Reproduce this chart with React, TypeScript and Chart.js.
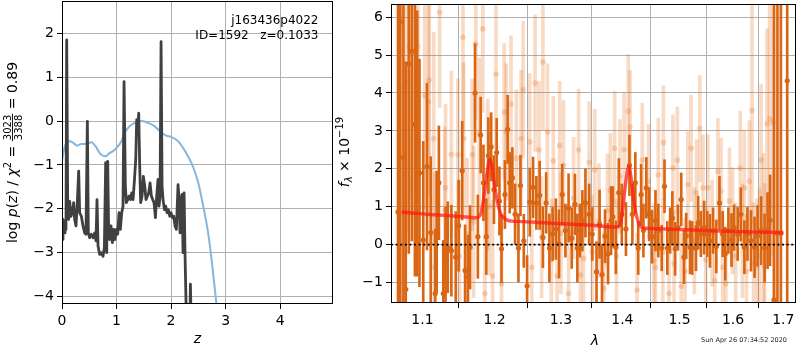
import React, { useEffect, useRef } from 'react';
import { Chart, registerables } from 'chart.js';
Chart.register(...registerables);

const FONT = 'DejaVu Sans';

// ---------- left panel: log p(z) ----------
const pzZ = [
  0, 0.018, 0.037, 0.055, 0.073, 0.086, 0.104, 0.122, 0.141, 0.165,
  0.190, 0.214, 0.232, 0.257, 0.281, 0.306, 0.324, 0.355, 0.385, 0.416,
  0.440, 0.465, 0.483, 0.508, 0.538, 0.569, 0.599, 0.624, 0.642, 0.661,
  0.691, 0.722, 0.752, 0.777, 0.801, 0.820, 0.838, 0.856, 0.875, 0.899,
  0.924, 0.948, 0.972, 0.997, 1.021, 1.046, 1.070, 1.095, 1.119, 1.138,
  1.162, 1.180, 1.205, 1.229, 1.254, 1.278, 1.303, 1.327, 1.352, 1.370,
  1.388, 1.407, 1.425, 1.443, 1.468, 1.492, 1.517, 1.541, 1.566, 1.590,
  1.615, 1.639, 1.664, 1.688, 1.713, 1.737, 1.761, 1.780, 1.798, 1.817,
  1.835, 1.853, 1.878, 1.902, 1.927, 1.951, 1.976, 2.000, 2.024, 2.049,
  2.073, 2.098, 2.128, 2.147, 2.165, 2.183, 2.202, 2.220, 2.239, 2.257,
  2.275, 2.300, 2.336, 2.355, 2.373, 2.400, 2.450,
];
const pzLog = [
  -2.70, -2.24, -2.55, -2.28, -2.47, 1.85, -1.79, -2.24, -1.83, -2.17,
  -2.09, -1.86, -2.24, -2.39, -1.86, -1.14, -2.09, -2.17, -2.39, -2.55,
  -2.58, -0.01, -2.55, -2.66, -2.58, -2.66, -2.55, -2.73, -1.79, -2.85,
  -3.04, -3.00, -3.08, -2.89, -0.95, -3.00, -0.92, -2.55, -2.70, -2.39,
  -2.77, -2.47, -2.70, -2.47, -2.58, -2.09, -2.47, -2.09, -1.94, 0.90,
  -1.48, -1.86, -1.79, -1.71, -1.79, -1.64, -1.79, -1.37, -0.88, 0.03,
  -0.27, 0.18, -1.03, -1.86, -1.71, -1.26, -1.48, -1.79, -1.71, -1.64,
  -1.41, -1.71, -1.79, -1.86, -2.20, -1.71, -1.33, -1.94, -1.71, 1.81,
  -1.48, -1.79, -2.02, -1.94, -2.09, -2.02, -2.17, -2.09, -2.20, -2.17,
  -2.39, -2.47, -1.45, -1.79, -2.55, -1.79, -1.67, -3.00, -1.64, -3.08,
  -4.14, -4.8, -5.6, -3.72, -4.8, -7, -10,
];
const priorZ = [
  0, 0.03, 0.05, 0.09, 0.14, 0.20, 0.28, 0.35, 0.45, 0.54,
  0.63, 0.69, 0.80, 0.87, 0.93, 1.00, 1.09, 1.15, 1.24, 1.36,
  1.46, 1.58, 1.70, 1.82, 1.91, 2.00, 2.13, 2.22, 2.31, 2.40,
  2.50, 2.59, 2.68, 2.75, 2.81, 2.83, 2.90,
];
const priorLog = [
  -0.90, -0.70, -0.58, -0.50, -0.46, -0.49, -0.56, -0.52, -0.52, -0.48,
  -0.60, -0.73, -0.80, -0.73, -0.69, -0.61, -0.46, -0.27, -0.12, -0.03,
  0.00, -0.04, -0.12, -0.26, -0.33, -0.36, -0.46, -0.61, -0.80, -1.03,
  -1.41, -1.94, -2.55, -3.23, -3.91, -4.14, -4.80,
];
const zTicks = [0, 1, 2, 3, 4];
const logTicks = [-4, -3, -2, -1, 0, 1, 2];

// ---------- right panel: spectrum ----------
const darkLam = [
  1.068, 1.071, 1.075, 1.078, 1.082, 1.086, 1.090, 1.093, 1.096, 1.101,
  1.106, 1.111, 1.117, 1.119, 1.122, 1.128, 1.131, 1.134, 1.139, 1.145,
  1.149, 1.154, 1.158, 1.162, 1.165, 1.172, 1.176, 1.180, 1.184, 1.188,
  1.191, 1.195, 1.199, 1.203, 1.207, 1.210, 1.215, 1.219, 1.222, 1.226,
  1.230, 1.235, 1.238, 1.243, 1.248, 1.252, 1.257, 1.262, 1.267, 1.272,
  1.277, 1.282, 1.287, 1.292, 1.297, 1.302, 1.307, 1.312, 1.317, 1.322,
  1.326, 1.330, 1.334, 1.339, 1.345, 1.350, 1.357, 1.362, 1.366, 1.371,
  1.376, 1.381, 1.384, 1.389, 1.394, 1.399, 1.406, 1.412, 1.417, 1.422,
  1.427, 1.432, 1.436, 1.441, 1.446, 1.451, 1.457, 1.462, 1.468, 1.473,
  1.478, 1.483, 1.487, 1.492, 1.497, 1.503, 1.508, 1.512, 1.519, 1.523,
  1.530, 1.534, 1.539, 1.545, 1.551, 1.556, 1.562, 1.568, 1.574, 1.580,
  1.585, 1.591, 1.597, 1.602, 1.609, 1.615, 1.622, 1.628, 1.635, 1.642,
  1.648, 1.655, 1.662, 1.668, 1.673, 1.681, 1.688, 1.695, 1.708,
];
const darkFlux = [
  0.86, 5.87, 2.30, -1.18, 4.77, 5.10, 3.17, 2.67, 1.89, 0.12,
  2.06, 0.32, -1.29, 0.34, 1.63, -1.29, -0.31, -0.07, -0.16, -0.33,
  0.50, 1.95, -0.68, -0.85, -0.07, 4.00, 0.21, 2.89, 1.63, 0.21,
  2.35, 2.58, 1.45, 2.43, 1.15, -0.11, 1.32, 3.04, 1.63, 1.76,
  0.80, -0.09, 1.56, 0.10, -1.09, 1.12, 1.51, 1.10, 1.30, 0.19,
  1.10, -0.09, 0.28, 0.41, 0.02, 1.32, 0.37, 0.97, 0.17, 1.06,
  -0.09, 0.37, 0.63, 1.10, 0.80, 0.28, -0.72, 0.54, -0.79, 0.22,
  -0.24, 0.63, 0.73, -0.07, 1.37, 0.80, 0.41, 2.09, 0.80, 1.63,
  -0.09, 1.32, 0.37, 1.50, 0.80, 0.21, 0.63, 0.37, -0.09, 1.54,
  -0.09, 0.37, 0.70, -0.11, 0.45, 1.19, -0.33, 0.23, -0.07, -0.09,
  -0.09, 0.58, 0.28, 0.45, 0.28, 0.10, 0.37, -0.05, 1.10, 0.28,
  -0.24, 0.37, 0.12, 0.45, 0.28, 0.80, -0.07, 0.28, 0.10, -0.07,
  0.23, 0.37, -0.09, 0.37, 0.64, -1.46, 0.30, 0.30, 4.32,
];
const darkErr = [
  8, 8, 6, 6, 5, 5, 4, 3.5, 3, 2.6,
  2.2, 2.0, 1.7, 1.6, 1.5, 1.4, 1.3, 1.2, 1.2, 1.2,
  1.2, 1.3, 1.2, 1.1, 1.1, 1.3, 1.1, 1.0, 1.0, 1.0,
  1.0, 0.9, 0.9, 0.9, 0.9, 0.9, 0.9, 0.9, 0.8, 0.8,
  0.8, 0.9, 0.8, 0.7, 0.8, 0.9, 0.8, 0.7, 0.9, 0.8,
  0.8, 0.9, 0.7, 0.8, 0.9, 0.8, 0.7, 0.9, 0.8, 0.8,
  0.9, 0.7, 0.8, 0.9, 0.8, 0.7, 0.8, 0.9, 0.8, 0.7,
  0.8, 0.9, 0.8, 0.7, 0.9, 0.8, 0.7, 0.8, 0.8, 0.8,
  0.7, 0.8, 0.7, 0.8, 0.7, 0.7, 0.8, 0.7, 0.6, 0.7,
  0.7, 0.6, 0.7, 0.7, 0.6, 0.7, 0.7, 0.6, 0.7, 0.7,
  0.6, 0.7, 0.6, 0.7, 0.6, 0.7, 0.6, 0.7, 0.7, 0.6,
  0.7, 0.6, 0.7, 0.6, 0.7, 0.7, 0.7, 0.7, 0.8, 0.8,
  0.8, 0.9, 0.9, 1.0, 1.2, 8, 8, 8, 8,
];
const lightLam = [
  1.079, 1.083, 1.094, 1.103, 1.108, 1.109, 1.115, 1.116, 1.123, 1.130,
  1.131, 1.139, 1.148, 1.150, 1.155, 1.156, 1.161, 1.168, 1.170, 1.173,
  1.178, 1.183, 1.186, 1.190, 1.192, 1.197, 1.202, 1.210, 1.214, 1.217,
  1.224, 1.232, 1.239, 1.242, 1.252, 1.255, 1.260, 1.266, 1.270, 1.272,
  1.279, 1.285, 1.288, 1.294, 1.298, 1.300, 1.304, 1.312, 1.320, 1.328,
  1.331, 1.336, 1.345, 1.350, 1.354, 1.361, 1.369, 1.375, 1.380, 1.387,
  1.390, 1.396, 1.403, 1.410, 1.413, 1.425, 1.434, 1.445, 1.454, 1.457,
  1.462, 1.470, 1.471, 1.481, 1.488, 1.490, 1.496, 1.503, 1.510, 1.515,
  1.521, 1.527, 1.531, 1.537, 1.543, 1.548, 1.552, 1.560, 1.565, 1.571,
  1.577, 1.580, 1.586, 1.593, 1.599, 1.605, 1.614, 1.618, 1.622, 1.626,
  1.632, 1.637, 1.640, 1.647, 1.652, 1.655, 1.660, 1.662, 1.667, 1.672,
  1.679, 1.681,
];
const lightFlux = [
  4.32, 5.23, 5.23, 3.93, 3.76, 4.34, 2.80, -0.60, 6.12, 0.90,
  1.50, 2.38, 2.37, -0.30, 5.47, 2.80, 0.28, 2.37, 0.60, 5.30,
  2.93, 5.69, -1.29, 1.84, 1.00, -0.83, 4.50, -1.03, 3.50, 2.97,
  3.71, 2.28, 2.80, 4.09, 2.71, -0.60, 4.26, 2.50, 0.20, 4.82,
  2.97, -0.40, 2.21, -0.83, 2.61, 0.30, 2.10, -1.29, 1.23, 2.50,
  -0.80, -0.37, 2.17, -0.20, 1.97, 0.63, -1.16, 0.90, 1.43, 2.54,
  -0.30, 1.80, 2.51, 3.52, 3.10, -1.20, 2.23, 1.67, -0.42, -0.60,
  1.84, -0.20, 2.69, -1.29, 2.02, -0.50, 2.23, -1.10, -0.70, 1.58,
  2.54, 0.10, 1.37, 3.06, 1.50, -0.40, 1.50, 0.30, -0.94, 1.93,
  1.41, -0.60, -1.03, 1.15, 0.63, -0.30, 2.02, 0.10, 1.50, -0.70,
  1.67, 3.54, -0.50, -0.59, -0.30, 2.23, 0.40, -0.59, 3.19, 3.32,
  3.23, -1.50,
];
const lightErr = [
  4, 4, 3.5, 3, 3, 3, 2.8, 2.5, 2.5, 2.2,
  2.2, 2.2, 2.0, 2.0, 2.5, 2.0, 2.0, 2.0, 2.0, 2.0,
  2.0, 2.2, 2.0, 2.0, 1.8, 2.0, 2.0, 1.8, 1.8, 1.8,
  1.8, 1.8, 1.8, 1.8, 1.8, 1.6, 1.8, 1.8, 1.6, 1.8,
  1.8, 1.6, 1.7, 1.6, 1.7, 1.6, 1.7, 1.6, 1.6, 1.6,
  1.6, 1.6, 1.6, 1.5, 1.6, 1.5, 1.5, 1.5, 1.5, 1.5,
  1.5, 1.5, 1.5, 1.5, 1.5, 1.5, 1.5, 1.5, 1.5, 1.4,
  1.5, 1.4, 1.5, 1.4, 1.4, 1.4, 1.4, 1.4, 1.4, 1.4,
  1.4, 1.4, 1.4, 1.4, 1.4, 1.4, 1.4, 1.4, 1.4, 1.4,
  1.4, 1.4, 1.4, 1.4, 1.4, 1.4, 1.5, 1.5, 1.5, 1.5,
  1.6, 3.0, 1.6, 1.8, 1.8, 2.0, 2.0, 2.2, 2.5, 3.0,
  3.5, 3.5,
];
const modelLam = [
  1.0727, 1.10, 1.13, 1.16, 1.175, 1.180, 1.185, 1.190, 1.193, 1.196,
  1.200, 1.205, 1.210, 1.218, 1.225, 1.26, 1.30, 1.35, 1.393, 1.398,
  1.403, 1.408, 1.411, 1.415, 1.420, 1.426, 1.432, 1.44, 1.5, 1.55,
  1.6, 1.65, 1.70,
];
const modelFlux = [
  0.86, 0.81, 0.77, 0.73, 0.71, 0.80, 1.30, 2.00, 2.24, 2.10,
  1.55, 1.05, 0.78, 0.65, 0.62, 0.59, 0.55, 0.51, 0.47, 0.65,
  1.30, 1.90, 2.06, 1.75, 1.10, 0.65, 0.46, 0.43, 0.40, 0.37,
  0.35, 0.33, 0.32,
];
const lamTicks = [1.1, 1.2, 1.3, 1.4, 1.5, 1.6, 1.7];
const fluxTicks = [-1, 0, 1, 2, 3, 4, 5, 6];

const LAM_MIN = 1.059;
const LAM_MAX = 1.7262;

const DARK = 'rgb(218,102,20)';
const LIGHT = 'rgba(228,112,32,0.26)';

const minus = (v: number) => (v < 0 ? '\u2212' + String(Math.abs(v)) : String(v));

function noPad(s: any) {
  s.paddingTop = 0;
  s.paddingBottom = 0;
  s.paddingLeft = 0;
  s.paddingRight = 0;
}

function axis(ticksArr: number[], fmt: (v: number) => string, padding: number) {
  return {
    afterBuildTicks: (s: any) => {
      s.ticks = ticksArr.map((v) => ({ value: v }));
    },
    ticks: {
      color: '#000',
      font: { family: FONT, size: 14 },
      padding,
      maxRotation: 0,
      autoSkip: false,
      callback: (v: any) => fmt(Number(v)),
    },
    grid: {
      color: '#b0b0b0',
      lineWidth: 1,
      tickColor: '#000',
      tickLength: 5,
      tickWidth: 1,
      drawTicks: true,
    },
    border: { display: false },
  };
}

const framePlugin = {
  id: 'frame',
  afterDraw(chart: any) {
    const { ctx, chartArea: a } = chart;
    ctx.save();
    ctx.strokeStyle = '#000';
    ctx.lineWidth = 1;
    ctx.strokeRect(Math.round(a.left) + 0.5, Math.round(a.top) + 0.5, Math.round(a.right - a.left) - 1, Math.round(a.bottom - a.top) - 1);
    ctx.restore();
  },
};

type Piece = { t?: string; frac?: [string, string]; font: string; dy?: number };

function drawPieces(ctx: CanvasRenderingContext2D, pieces: Piece[], cx: number, cy: number, rotate: boolean) {
  ctx.save();
  ctx.translate(cx, cy);
  if (rotate) ctx.rotate(-Math.PI / 2);
  ctx.fillStyle = '#000';
  ctx.textBaseline = 'alphabetic';
  ctx.textAlign = 'left';
  const widths = pieces.map((p) => {
    ctx.font = p.font;
    if (p.frac) return Math.max(ctx.measureText(p.frac[0]).width, ctx.measureText(p.frac[1]).width) + 2;
    return ctx.measureText(p.t || '').width;
  });
  const total = widths.reduce((a, b) => a + b, 0);
  let x = -total / 2;
  pieces.forEach((p, i) => {
    ctx.font = p.font;
    if (p.frac) {
      const w = widths[i];
      const ax = -4.5;
      ctx.fillRect(x, ax - 0.45, w, 0.9);
      ctx.textAlign = 'center';
      ctx.fillText(p.frac[0], x + w / 2, ax - 1.8);
      ctx.fillText(p.frac[1], x + w / 2, ax + 1.8 + 7.3);
      ctx.textAlign = 'left';
    } else {
      ctx.fillText(p.t || '', x, p.dy || 0);
    }
    x += widths[i];
  });
  ctx.restore();
}

const leftText = {
  id: 'leftText',
  afterDraw(chart: any) {
    const ctx = chart.ctx as CanvasRenderingContext2D;
    const F = `14px ${FONT}`;
    const FI = `italic 14px ${FONT}`;
    const FS = `10px ${FONT}`;
    drawPieces(
      ctx,
      [
        { t: 'log ', font: F },
        { t: 'p', font: FI },
        { t: '(', font: F },
        { t: 'z', font: FI },
        { t: ') / ', font: F },
        { t: '\u03c7', font: FI },
        { t: '2', font: FS, dy: -6 },
        { t: ' = ', font: F },
        { frac: ['3023', '3388'], font: FS },
        { t: ' = 0.89', font: F },
      ],
      17,
      152.5,
      true
    );
    ctx.save();
    ctx.fillStyle = '#000';
    ctx.font = `italic 14px ${FONT}`;
    ctx.textAlign = 'center';
    ctx.textBaseline = 'alphabetic';
    ctx.fillText('z', 197.5, 343);
    ctx.font = `12px ${FONT}`;
    ctx.textAlign = 'right';
    ctx.fillText('j163436p4022', 318.5, 24.3);
    ctx.fillText('ID=1592   z=0.1033', 318.5, 38.8);
    ctx.restore();
  },
};

const rightText = {
  id: 'rightText',
  afterDraw(chart: any) {
    const ctx = chart.ctx as CanvasRenderingContext2D;
    drawPieces(
      ctx,
      [
        { t: 'f', font: `italic 14px ${FONT}` },
        { t: '\u03bb', font: `italic 10px ${FONT}`, dy: 3 },
        { t: ' \u00d7 10', font: `14px ${FONT}` },
        { t: '\u221219', font: `10px ${FONT}`, dy: -6 },
      ],
      19,
      152,
      true
    );
    ctx.save();
    ctx.fillStyle = '#000';
    ctx.font = `italic 14px ${FONT}`;
    ctx.textAlign = 'center';
    ctx.textBaseline = 'alphabetic';
    ctx.fillText('\u03bb', 265, 345);
    ctx.font = `6.5px ${FONT}`;
    ctx.fillStyle = '#222';
    ctx.textAlign = 'right';
    ctx.fillText('Sun Apr 26 07:34:52 2020', 457, 342);
    ctx.restore();
  },
};

function leftConfig(): any {
  return {
    type: 'line',
    data: {
      datasets: [
        {
          data: pzZ.map((z, i) => ({ x: z, y: pzLog[i] })),
          borderColor: '#404040',
          borderWidth: 2.8,
          borderJoinStyle: 'round',
          pointRadius: 0,
          tension: 0,
        },
        {
          data: priorZ.map((z, i) => ({ x: z, y: priorLog[i] })),
          borderColor: '#86b6dc',
          borderWidth: 2,
          pointRadius: 0,
          cubicInterpolationMode: 'monotone',
        },
      ],
    },
    options: {
      responsive: false,
      animation: false,
      devicePixelRatio: 1,
      layout: { padding: { left: 0, right: 7, top: 1, bottom: 0 } },
      plugins: { legend: { display: false }, tooltip: { enabled: false } },
      scales: {
        x: {
          type: 'linear',
          min: 0,
          max: 4.97,
          ...axis(zTicks, (v) => String(v), 4),
          afterFit: (s: any) => {
            s.height = 46;
            noPad(s);
          },
        },
        y: {
          type: 'linear',
          min: -4.17,
          max: 2.737,
          ...axis(logTicks, minus, 3),
          afterFit: (s: any) => {
            s.width = 62;
            noPad(s);
          },
        },
      },
    },
    plugins: [framePlugin, leftText],
  };
}

function rightConfig(): any {
  return {
    type: 'bar',
    data: {
      datasets: [
        {
          type: 'line',
          data: [
            { x: LAM_MIN, y: 0 },
            { x: LAM_MAX, y: 0 },
          ],
          borderColor: '#000',
          borderWidth: 1.8,
          borderDash: [2, 2.6],
          pointRadius: 0,
          order: 0,
        },
        {
          type: 'line',
          data: modelLam.map((l, i) => ({ x: l, y: modelFlux[i] })),
          borderColor: 'rgba(255,25,20,0.72)',
          borderWidth: 3.4,
          pointRadius: 0,
          tension: 0.25,
          order: 1,
        },
        {
          type: 'line',
          data: darkLam.map((l, i) => ({ x: l, y: darkFlux[i] })),
          showLine: false,
          pointRadius: 2.6,
          pointBorderWidth: 0,
          pointBackgroundColor: DARK,
          order: 2,
        },
        {
          type: 'bar',
          data: darkLam.map((l, i) => ({ x: l, y: [darkFlux[i] - darkErr[i], darkFlux[i] + darkErr[i]] })),
          backgroundColor: DARK,
          borderWidth: 0,
          barThickness: 2,
          grouped: false,
          order: 3,
        },
        {
          type: 'line',
          data: lightLam.map((l, i) => ({ x: l, y: lightFlux[i] })),
          showLine: false,
          pointRadius: 2.8,
          pointBorderWidth: 0,
          pointBackgroundColor: LIGHT,
          order: 4,
        },
        {
          type: 'bar',
          data: lightLam.map((l, i) => ({ x: l, y: [lightFlux[i] - lightErr[i], lightFlux[i] + lightErr[i]] })),
          backgroundColor: LIGHT,
          borderWidth: 0,
          barThickness: 3,
          grouped: false,
          order: 5,
        },
      ],
    },
    options: {
      responsive: false,
      animation: false,
      devicePixelRatio: 1,
      layout: { padding: { left: 0, right: 1, top: 1, bottom: 0 } },
      plugins: { legend: { display: false }, tooltip: { enabled: false } },
      scales: {
        x: {
          type: 'logarithmic',
          min: LAM_MIN,
          max: LAM_MAX,
          offset: false,
          ...axis(lamTicks, (v) => v.toFixed(1), 4),
          afterFit: (s: any) => {
            s.height = 47;
            noPad(s);
          },
        },
        y: {
          type: 'linear',
          min: -1.54,
          max: 6.347,
          ...axis(fluxTicks, minus, 3),
          afterFit: (s: any) => {
            s.width = 61;
            noPad(s);
          },
        },
      },
    },
    plugins: [framePlugin, rightText],
  };
}

export default function App() {
  const leftRef = useRef<HTMLCanvasElement>(null);
  const rightRef = useRef<HTMLCanvasElement>(null);
  useEffect(() => {
    const l = new Chart(leftRef.current as HTMLCanvasElement, leftConfig());
    const r = new Chart(rightRef.current as HTMLCanvasElement, rightConfig());
    return () => {
      l.destroy();
      r.destroy();
    };
  }, []);
  return (
    <div style={{ position: 'fixed', left: 0, top: 0, width: 800, height: 350, background: '#fff' }}>
      <canvas ref={leftRef} width={340} height={350} style={{ position: 'absolute', left: 0, top: 0, width: 340, height: 350 }} />
      <canvas ref={rightRef} width={470} height={350} style={{ position: 'absolute', left: 330, top: 0, width: 470, height: 350 }} />
    </div>
  );
}
